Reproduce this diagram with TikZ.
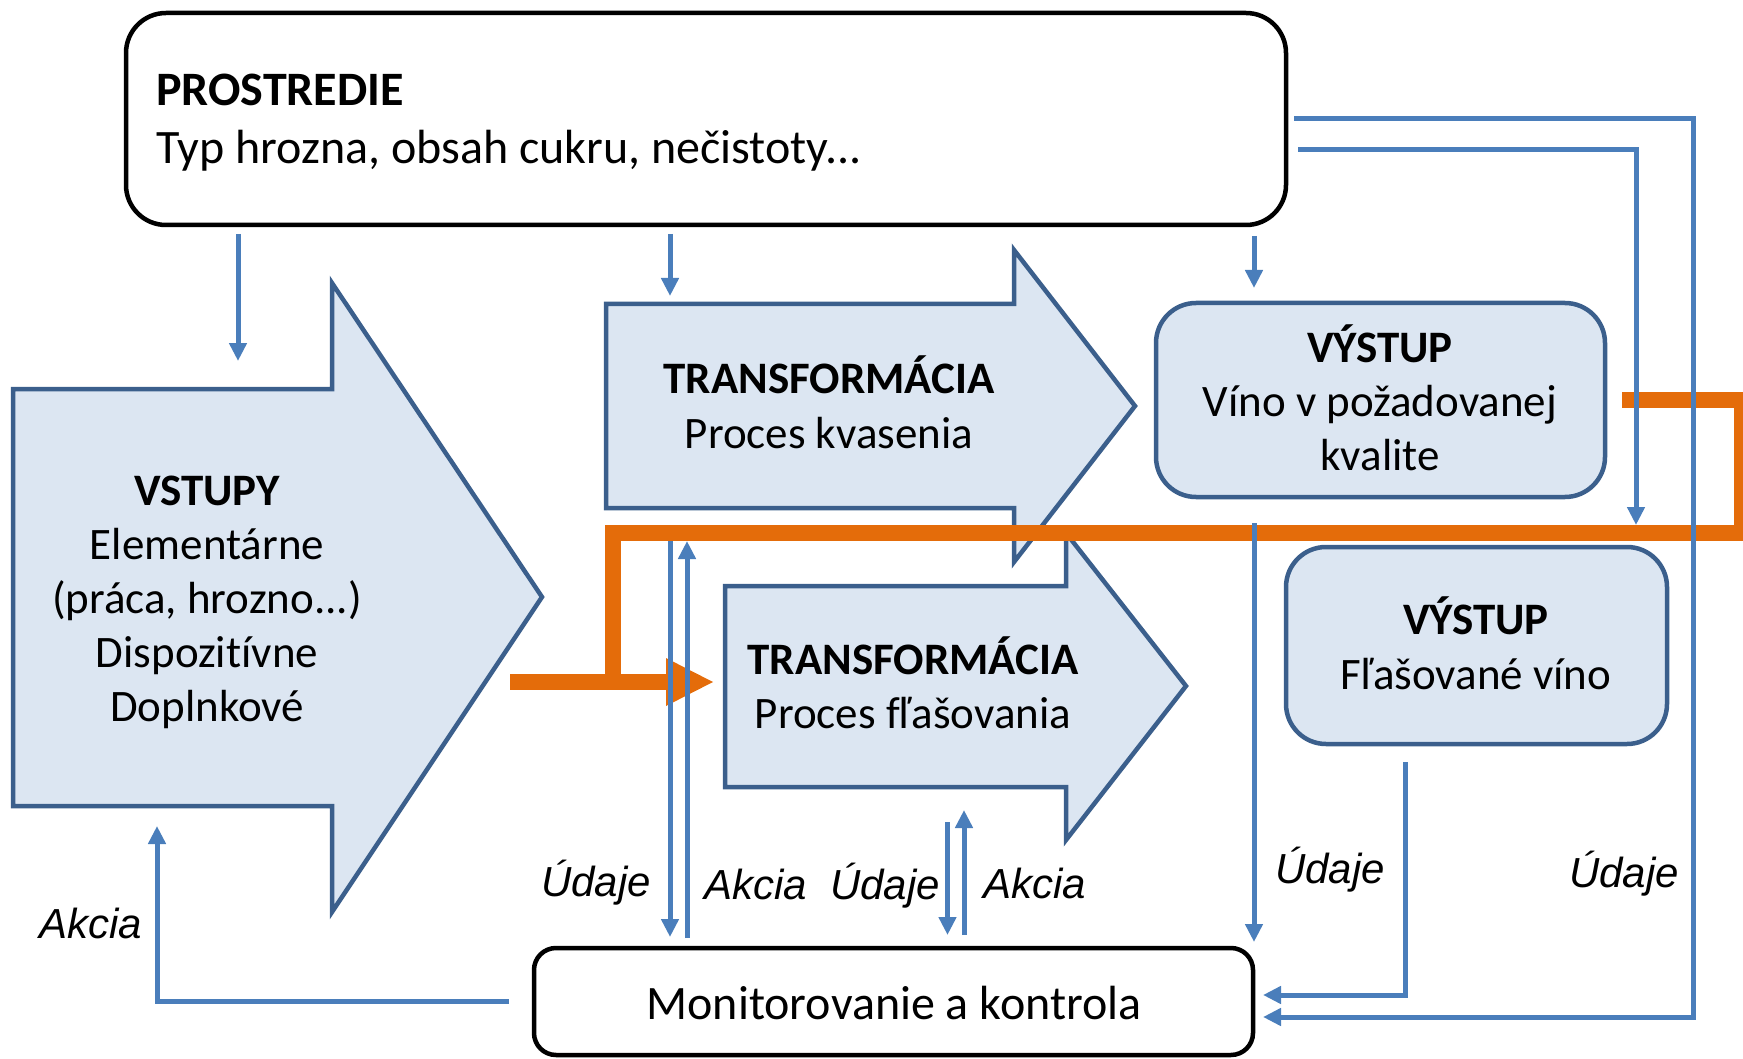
\documentclass[tikz,border=0pt]{standalone}
\usepackage{fontspec}
\setmainfont{Carlito}[Ligatures=NoCommon]
\newfontfamily\labfont{Liberation Sans}
\usetikzlibrary{arrows.meta}
\definecolor{fillblue}{HTML}{DCE6F2}
\definecolor{edgeblue}{HTML}{3B5F8C}
\definecolor{lineblue}{HTML}{4A7EBB}
\definecolor{orng}{HTML}{E46C0A}
\tikzset{
  shapebox/.style={draw=edgeblue, fill=fillblue, line width=4.5pt, line join=miter},
  blackbox/.style={draw=black, fill=white, line width=4.5pt, rectangle, rounded corners=#1, inner sep=0pt},
  bluebox/.style={draw=edgeblue, fill=fillblue, line width=4.5pt, rectangle, rounded corners=#1, inner sep=0pt},
  maintxt/.style={inner sep=0pt, font=\fontsize{45}{54}\selectfont},
  boldtxt/.style={inner sep=0pt, font=\fontsize{45}{54}\selectfont\bfseries},
  bigtxt/.style={inner sep=0pt, font=\fontsize{48}{58}\selectfont},
  bigbold/.style={inner sep=0pt, font=\fontsize{48}{58}\selectfont\bfseries},
  labtxt/.style={inner sep=0pt, anchor=base west, font=\labfont\itshape\fontsize{42}{50}\selectfont},
  conn/.style={draw=lineblue, line width=5pt},
  connarrow/.style={conn, -{Triangle[width=17pt,length=18pt]}},
  orangeline/.style={draw=orng, line width=16pt, line join=miter},
}
\begin{document}
\begin{tikzpicture}[x=1pt, y=-1pt]
\useasboundingbox (0,0) rectangle (1743,1059);
\clip (0,0) rectangle (1743,1059);

% ---------- boxes ----------
\node[blackbox=40pt, minimum width=1160pt, minimum height=212pt] (env) at (706,119) {};
\node[bigbold, anchor=base west] (envtitle) at (156,106) {PROSTREDIE};
\node[bigtxt, anchor=base west] (envtext) at (156,164) {Typ hrozna, obsah cukru, nečistoty...};

% VSTUPY arrow
\draw[shapebox] (13,389) -- (332,389) -- (332,283) -- (542,597) -- (332,912) -- (332,806) -- (13,806) -- cycle;
\node[boldtxt, anchor=base] (vs1) at (207,505) {VSTUPY};
\node[maintxt, anchor=base] (vs2) at (207,559) {Elementárne};
\node[maintxt, anchor=base] (vs3) at (207,613) {(práca, hrozno...)};
\node[maintxt, anchor=base] (vs4) at (207,667) {Dispozitívne};
\node[maintxt, anchor=base] (vs5) at (207,721) {Doplnkové};

% TRANSFORMACIA 1
\draw[shapebox] (606,304) -- (1014,304) -- (1014,250) -- (1135,406) -- (1014,562) -- (1014,508) -- (606,508) -- cycle;
\node[boldtxt, anchor=base] (tr1a) at (829,393) {TRANSFORMÁCIA};
\node[maintxt, anchor=base] (tr1b) at (829,448) {Proces kvasenia};

% TRANSFORMACIA 2
\draw[shapebox] (725,586) -- (1066,586) -- (1066,533) -- (1186,686) -- (1066,840) -- (1066,787) -- (725,787) -- cycle;
\node[boldtxt, anchor=base] (tr2a) at (913,674) {TRANSFORMÁCIA};
\node[maintxt, anchor=base] (tr2b) at (913,728) {Proces fľašovania};

% VYSTUP 1
\node[bluebox=40pt, minimum width=449pt, minimum height=194pt] (out1) at (1380.5,400) {};
\node[boldtxt, anchor=base] (out1a) at (1380,362) {VÝSTUP};
\node[maintxt, anchor=base] (out1b) at (1380,416) {Víno v požadovanej};
\node[maintxt, anchor=base] (out1c) at (1380,470) {kvalite};

% VYSTUP 2
\node[bluebox=40pt, minimum width=381pt, minimum height=197pt] (out2) at (1476.5,645.5) {};
\node[boldtxt, anchor=base] (out2a) at (1476,634) {VÝSTUP};
\node[maintxt, anchor=base] (out2b) at (1476,689) {Fľašované víno};

% Monitorovanie
\node[blackbox=22pt, minimum width=719pt, minimum height=107pt] (mon) at (893.5,1001.5) {};
\node[bigtxt, anchor=base] (montext) at (894,1019.5) {Monitorovanie a kontrola};

% ---------- orange flow ----------
\coordinate (o0) at (510,682);
\coordinate (o1) at (666,682);
\coordinate (o1t) at (666,658);
\coordinate (o1b) at (666,706);
\coordinate (otip) at (713,682);
\coordinate (f0) at (1622,400);
\coordinate (f1) at (1742,400);
\coordinate (f2) at (1742,533);
\coordinate (f3) at (613,533);
\coordinate (f4) at (613,682);
\draw[orangeline] (o0) -- (o1);
\fill[orng] (o1t) -- (otip) -- (o1b) -- cycle;
\draw[orangeline] (f0) -- (f1) -- (f2) -- (f3) -- (f4);

% ---------- blue connectors ----------
\coordinate (a1s) at (238,234);  \coordinate (a1e) at (238,361);
\coordinate (a2s) at (670,234);  \coordinate (a2e) at (670,296);
\coordinate (a3s) at (1254,236); \coordinate (a3e) at (1254,288);
\draw[connarrow] (a1s) -- (a1e);
\draw[connarrow] (a2s) -- (a2e);
\draw[connarrow] (a3s) -- (a3e);

\coordinate (r1s) at (1294,119); \coordinate (r1c) at (1693,119); \coordinate (r1d) at (1693,1017); \coordinate (r1e) at (1263,1017);
\draw[connarrow] (r1s) -- (r1c) -- (r1d) -- (r1e);
\coordinate (r2s) at (1298,150); \coordinate (r2c) at (1636,150); \coordinate (r2e) at (1636,525);
\draw[connarrow] (r2s) -- (r2c) -- (r2e);

\coordinate (d1s) at (1254,523); \coordinate (d1e) at (1254,942);
\draw[connarrow] (d1s) -- (d1e);
\coordinate (d2s) at (1405,762); \coordinate (d2c) at (1405,995); \coordinate (d2e) at (1263,995);
\draw[connarrow] (d2s) -- (d2c) -- (d2e);

\coordinate (p1s) at (670,541); \coordinate (p1e) at (670,937);
\coordinate (p2s) at (687,938); \coordinate (p2e) at (687,541);
\draw[connarrow] (p1s) -- (p1e);
\draw[connarrow] (p2s) -- (p2e);

\coordinate (q1s) at (947.5,822); \coordinate (q1e) at (947.5,935);
\coordinate (q2s) at (964,935);   \coordinate (q2e) at (964,810);
\draw[connarrow] (q1s) -- (q1e);
\draw[connarrow] (q2s) -- (q2e);

\coordinate (b1s) at (509,1001.5); \coordinate (b1c) at (157,1001.5); \coordinate (b1e) at (157,826);
\draw[connarrow] (b1s) -- (b1c) -- (b1e);

% ---------- labels ----------
\node[labtxt] (l1) at (39,938.5) {Akcia};
\node[labtxt] (l2) at (541,896) {Údaje};
\node[labtxt] (l3) at (704,899) {Akcia};
\node[labtxt] (l4) at (830,899) {Údaje};
\node[labtxt] (l5) at (983,898.5) {Akcia};
\node[labtxt] (l6) at (1275,883) {Údaje};
\node[labtxt] (l7) at (1569,887) {Údaje};
\end{tikzpicture}
\end{document}
